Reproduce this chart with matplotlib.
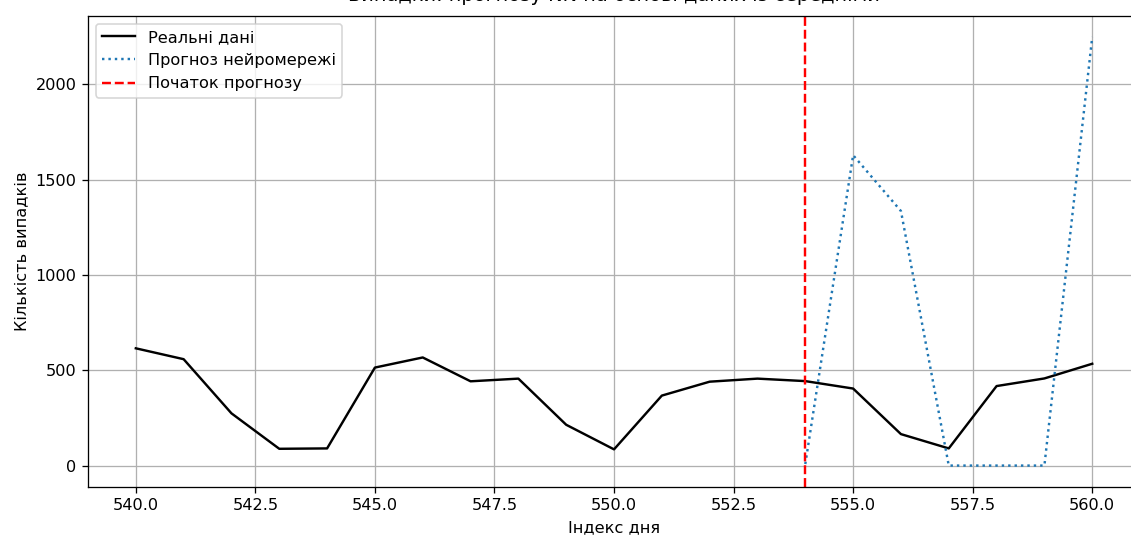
import matplotlib
matplotlib.use("Agg")
import matplotlib.pyplot as plt

# Daily case counts (real) and network forecast starting at the split day
days_real = list(range(540, 561))
cases_real = [615, 558, 274, 88, 90, 514, 567, 442, 456, 214, 85,
              367, 440, 456, 443, 404, 165, 90, 417, 457, 534]

days_pred = list(range(554, 561))
cases_pred = [8, 1628, 1335, 0, 0, 0, 2248]

forecast_start = 554

DPI = 116
fig = plt.figure(figsize=(1131 / DPI, 537 / DPI), dpi=DPI)
ax = fig.add_axes([0.0778, 0.0931, 0.9302, 0.8780])

ax.plot(days_real, cases_real, color="black", label="Реальні дані")
ax.plot(days_pred, cases_pred, linestyle=":", color="C0", label="Прогноз нейромережі")
ax.axvline(forecast_start, color="red", linestyle="--", label="Початок прогнозу")

ax.set_title("Випадки: прогнозу NN на основі даних із середніми", pad=9)
ax.set_xlabel("Індекс дня")
ax.set_ylabel("Кількість випадків")
ax.grid(True)
ax.legend(loc="upper left")

fig.savefig("out.png", dpi=DPI)
